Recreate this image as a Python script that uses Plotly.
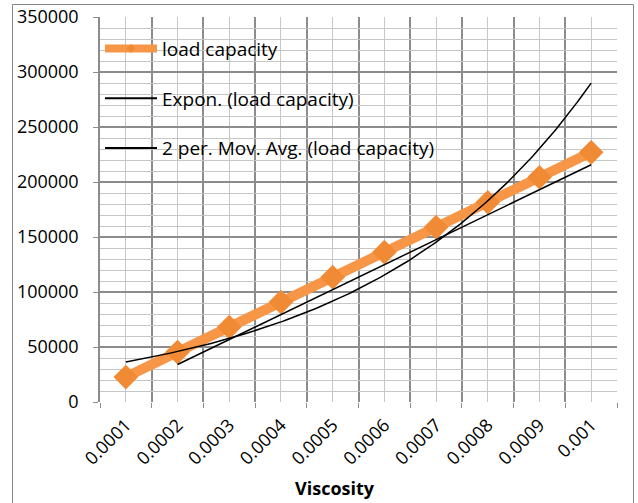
import numpy as np
import plotly.graph_objects as go

# Viscosity categories and the measured load capacity at each
viscosity_labels = ["0.0001", "0.0002", "0.0003", "0.0004", "0.0005",
                    "0.0006", "0.0007", "0.0008", "0.0009", "0.001"]
load_capacity = [22700, 45400, 68100, 90800, 113500,
                 136200, 158900, 181600, 204300, 227000]

ORANGE = "#F79646"
MARKER = "#F08A34"
FONT = "Open Sans"

pos = np.arange(1, len(viscosity_labels) + 1, dtype=float)
y = np.array(load_capacity, dtype=float)

# Exponential trendline: least squares on ln(y)
b, ln_a = np.polyfit(pos, np.log(y), 1)
xs = np.linspace(pos[0], pos[-1], 200)
expon = np.exp(ln_a) * np.exp(b * xs)

# Two-period moving average
mov_x = pos[1:]
mov_y = (y[1:] + y[:-1]) / 2

fig = go.Figure()

fig.add_trace(go.Scatter(
    x=pos, y=y, mode="lines+markers", showlegend=False,
    line=dict(color=ORANGE, width=10),
    marker=dict(symbol="diamond", size=19, color=MARKER),
))
fig.add_trace(go.Scatter(
    x=xs, y=expon, mode="lines", showlegend=False,
    line=dict(color="black", width=1.5),
))
fig.add_trace(go.Scatter(
    x=mov_x, y=mov_y, mode="lines", showlegend=False,
    line=dict(color="black", width=1.5),
))

# Legend entries
fig.add_trace(go.Scatter(
    x=[None], y=[None], mode="lines+markers", name="load capacity",
    legendgroup="a", line=dict(color=ORANGE, width=8),
    marker=dict(symbol="diamond", size=7, color=MARKER),
))
fig.add_trace(go.Scatter(
    x=[None], y=[None], mode="lines", name="Expon. (load capacity)",
    legendgroup="b", line=dict(color="black", width=2),
))
fig.add_trace(go.Scatter(
    x=[None], y=[None], mode="lines", name="2 per. Mov. Avg. (load capacity)",
    legendgroup="c", line=dict(color="black", width=2),
))

MAJOR = "#8C8C8C"
MINOR = "#C6C6C6"

fig.update_layout(
    width=638, height=503,
    margin=dict(l=100, r=21, t=17, b=101, autoexpand=False),
    paper_bgcolor="white", plot_bgcolor="white",
    font=dict(family=FONT, size=18, color="black"),
    showlegend=True,
    legend=dict(
        x=0.0, y=0.967, xanchor="left", yanchor="top",
        bgcolor="rgba(0,0,0,0)", font=dict(family=FONT, size=19),
        tracegroupgap=22, itemwidth=52,
    ),
    xaxis=dict(
        range=[0.5, 10.5], tickmode="array", tickvals=pos,
        ticktext=viscosity_labels, tickangle=-45, ticks="",
        ticklabelstandoff=8, automargin=False,
        showgrid=True, gridcolor=MINOR, gridwidth=1,
        showline=False, zeroline=False,
        tickfont=dict(family=FONT, size=18),
        minor=dict(tickmode="array", tickvals=list(np.arange(0.5, 11, 1.0)),
                   ticks="outside", ticklen=5, tickcolor=MAJOR,
                   showgrid=True, gridcolor=MAJOR, gridwidth=1.5),
    ),
    yaxis=dict(
        range=[0, 350000], dtick=50000, tickformat="d",
        ticks="outside", ticklen=5, tickcolor=MAJOR,
        ticklabelstandoff=11, automargin=False,
        showgrid=True, gridcolor=MAJOR, gridwidth=1.5,
        showline=True, linecolor=MAJOR, linewidth=1.5,
        zeroline=False,
        tickfont=dict(family=FONT, size=18),
        minor=dict(dtick=10000, showgrid=True, gridcolor=MINOR, gridwidth=1),
    ),
    annotations=[dict(
        text="<b>Viscosity</b>", xref="paper", yref="paper",
        x=0.4545, y=-0.2234, xanchor="center", yanchor="middle",
        showarrow=False, font=dict(family=FONT, size=18, color="black"),
    )],
    shapes=[dict(
        type="rect", xref="paper", yref="paper",
        x0=-0.1692, x1=1.0319, y0=-0.27, y1=1.0325,
        line=dict(color="#868686", width=1),
    )],
)

fig.write_html("out.html")
